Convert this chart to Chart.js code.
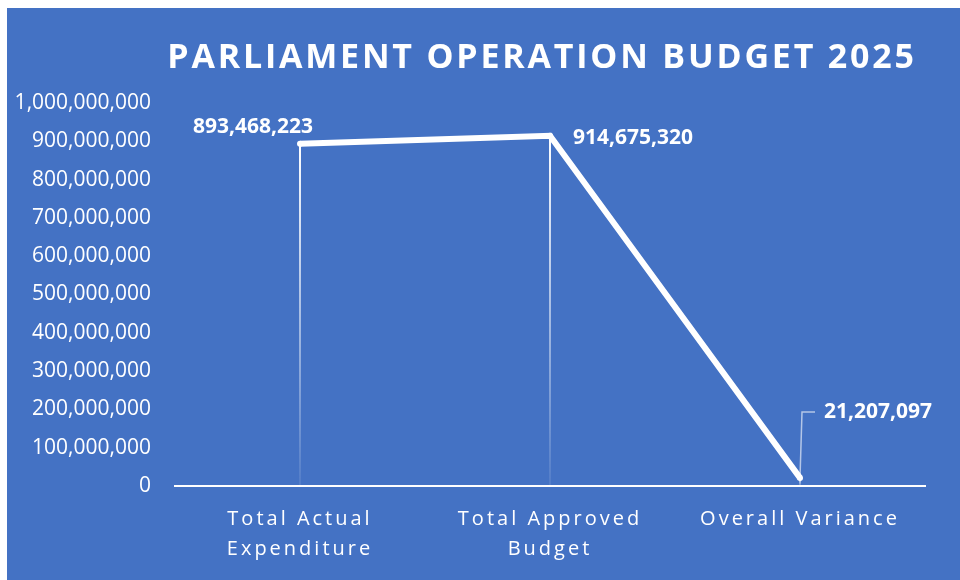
<!DOCTYPE html>
<html>
<head>
<meta charset="utf-8">
<script src="https://cdn.jsdelivr.net/npm/chart.js@4"></script>
<style>
  html, body { margin: 0; padding: 0; background: #ffffff; }
  #wrap { position: absolute; left: 7px; top: 8px; width: 953px; height: 572px; background: #4472C4; }
  canvas { display: block; }
</style>
</head>
<body>
<div id="wrap"><canvas id="budgetChart" width="953" height="572"></canvas></div>
<script>
// Budget figures
const titleText = 'PARLIAMENT OPERATION BUDGET 2025';
const categories = [['Total Actual', 'Expenditure'], ['Total Approved', 'Budget'], ['Overall Variance']];
const amounts = [893468223, 914675320, 21207097];
const yMax = 1000000000;
const yStep = 100000000;

const fmt = v => Number(v).toLocaleString('en-US');
const FONT = '"Open Sans", "DejaVu Sans", sans-serif';

// vertical drop lines from each point down to the axis, fading out
const dropLines = {
  id: 'dropLines',
  beforeDatasetsDraw(chart) {
    const ctx = chart.ctx;
    const bottom = chart.chartArea.bottom;
    chart.getDatasetMeta(0).data.forEach(pt => {
      const g = ctx.createLinearGradient(0, pt.y, 0, bottom);
      g.addColorStop(0, 'rgba(255,255,255,1)');
      g.addColorStop(1, 'rgba(255,255,255,0.08)');
      ctx.save();
      ctx.strokeStyle = g;
      ctx.lineWidth = 2;
      ctx.beginPath();
      ctx.moveTo(pt.x, pt.y);
      ctx.lineTo(pt.x, bottom);
      ctx.stroke();
      ctx.restore();
    });
  }
};

// value labels, title and spaced category labels
const extras = {
  id: 'extras',
  afterDatasetsDraw(chart) {
    const ctx = chart.ctx;
    const pts = chart.getDatasetMeta(0).data;
    ctx.save();
    ctx.fillStyle = '#ffffff';
    ctx.font = 'bold 21px ' + FONT;
    ctx.textBaseline = 'middle';

    // first point: label up-left
    ctx.textAlign = 'right';
    ctx.fillText(fmt(amounts[0]), pts[0].x + 13, pts[0].y - 17);

    // second point: label right
    ctx.textAlign = 'left';
    ctx.fillText(fmt(amounts[1]), pts[1].x + 23, pts[1].y + 2);

    // third point: leader line then label
    const p = pts[2];
    const ly = p.y - 66;
    ctx.strokeStyle = 'rgba(255,255,255,0.6)';
    ctx.lineWidth = 1.5;
    ctx.beginPath();
    ctx.moveTo(p.x, p.y);
    ctx.lineTo(p.x + 2, ly);
    ctx.lineTo(p.x + 15, ly);
    ctx.stroke();
    ctx.fillText(fmt(amounts[2]), p.x + 24, ly);
    ctx.restore();
  },
  afterDraw(chart) {
    const ctx = chart.ctx;
    const xs = chart.scales.x;
    ctx.save();
    ctx.fillStyle = '#ffffff';
    ctx.textAlign = 'center';
    ctx.textBaseline = 'middle';

    ctx.font = 'bold 34px ' + FONT;
    ctx.letterSpacing = '2.8px';
    ctx.fillText(titleText, 535, 50);

    ctx.font = '20px ' + FONT;
    ctx.letterSpacing = '3px';
    categories.forEach((lines, i) => {
      const x = xs.getPixelForValue(i);
      lines.forEach((line, j) => {
        ctx.fillText(line, x, chart.chartArea.bottom + 33 + j * 30);
      });
    });
    ctx.restore();
  }
};

new Chart(document.getElementById('budgetChart'), {
  type: 'line',
  data: {
    labels: categories,
    datasets: [{
      data: amounts,
      borderColor: '#ffffff',
      borderWidth: 6,
      pointRadius: 3,
      pointBackgroundColor: '#ffffff',
      pointBorderColor: '#ffffff',
      pointBorderWidth: 0,
      tension: 0
    }]
  },
  options: {
    responsive: false,
    animation: false,
    layout: { padding: { top: 95, right: 35, left: 0, bottom: 0 } },
    plugins: { legend: { display: false }, tooltip: { enabled: false } },
    scales: {
      x: {
        offset: true,
        grid: { display: false, drawTicks: false },
        border: { display: true, color: '#ffffff', width: 2 },
        ticks: { display: false },
        afterFit: s => { s.height = 94; }
      },
      y: {
        min: 0,
        max: yMax,
        grid: { display: false, drawTicks: false },
        border: { display: false },
        ticks: {
          stepSize: yStep,
          padding: 24,
          color: '#ffffff',
          font: { family: FONT, size: 21 },
          callback: v => fmt(v)
        },
        afterFit: s => { s.width = 168; }
      }
    }
  },
  plugins: [dropLines, extras]
});
</script>
</body>
</html>
